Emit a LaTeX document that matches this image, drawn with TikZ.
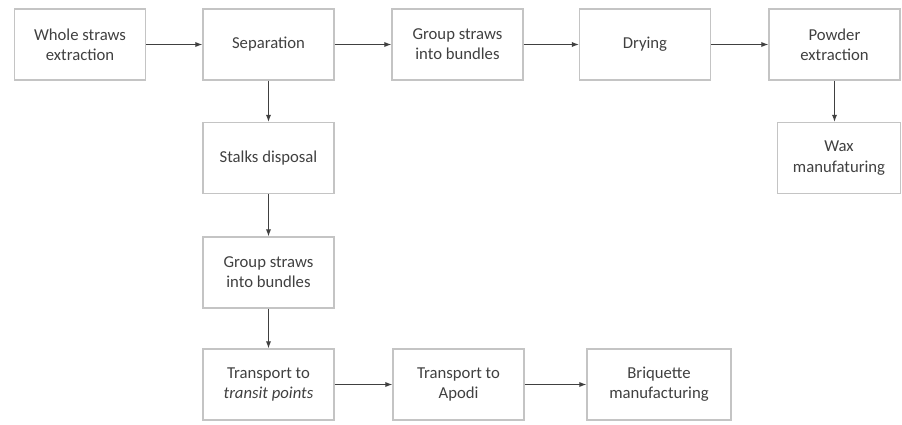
\documentclass[tikz,border=0pt]{standalone}
\usepackage{fontspec}
\setmainfont{Carlito}
\usepackage{tikz}
\usetikzlibrary{positioning,arrows.meta}
\definecolor{boxgray}{HTML}{C4C4C4}
\definecolor{arrowgray}{HTML}{404040}

\begin{document}
\begin{tikzpicture}[
    stepbox/.style={draw=boxgray, line width=0.8pt, minimum width=2.62cm,
                    minimum height=1.42cm, align=center, text=black!75,
                    font=\fontsize{9.5}{11.5}\selectfont},
    flow/.style={draw=arrowgray, line width=0.6pt,
                 -{Latex[length=4pt,width=3pt]}},
]
\useasboundingbox (0,0) rectangle (18.04,8.48);
% top row
\node[stepbox] (whole) at (1.6,7.59) {Whole straws\\extraction};
\node[stepbox] (sep) at (5.37,7.59) {Separation};
\node[stepbox] (group1) at (9.15,7.59) {Group straws\\into bundles};
\node[stepbox] (dry) at (12.9,7.59) {Drying};
\node[stepbox] (powder) at (16.69,7.59) {Powder\\extraction};
\node[stepbox, minimum width=2.46cm] (wax) at (16.78,5.32) {Wax\\manufaturing};
% left column
\node[stepbox] (stalks) at (5.37,5.32) {Stalks disposal};
\node[stepbox] (group2) at (5.37,3.03) {Group straws\\into bundles};
\node[stepbox] (transit) at (5.37,0.79) {Transport to\\\textit{transit points}};
% bottom row
\node[stepbox] (apodi) at (9.17,0.79) {Transport to\\Apodi};
\node[stepbox, minimum width=2.88cm] (briq) at (13.18,0.79) {Briquette\\manufacturing};

\draw[flow] (whole) -- (sep);
\draw[flow] (sep) -- (group1);
\draw[flow] (group1) -- (dry);
\draw[flow] (dry) -- (powder);
\draw[flow] (powder) -- (powder |- wax.north);
\draw[flow] (sep) -- (stalks);
\draw[flow] (stalks) -- (group2);
\draw[flow] (group2) -- (transit);
\draw[flow] (transit) -- (apodi);
\draw[flow] (apodi) -- (briq);
\end{tikzpicture}
\end{document}
